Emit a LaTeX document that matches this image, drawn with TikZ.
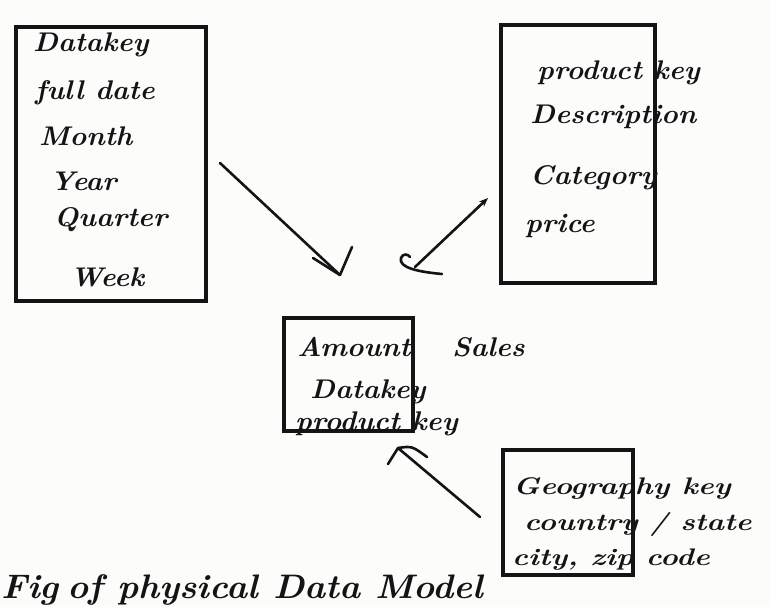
\documentclass[tikz,border=0pt]{standalone}
\usepackage{fontspec}
\setmainfont{lmroman10-regular.otf}[ItalicFont=lmroman10-italic.otf, BoldFont=lmroman10-bold.otf, BoldItalicFont=lmroman10-bolditalic.otf, FakeStretch=1.05]
\newfontfamily\widehand{lmroman10-regular.otf}[ItalicFont=lmroman10-italic.otf, BoldFont=lmroman10-bold.otf, BoldItalicFont=lmroman10-bolditalic.otf, FakeStretch=1.25]
\usetikzlibrary{arrows.meta}
\definecolor{ink}{HTML}{141414}
\definecolor{paper}{HTML}{FCFCFB}
\tikzset{
  table/.style={draw=ink, line width=3.2pt, inner sep=0pt},
  field/.style={anchor=base west, inner sep=0pt, text=ink, font=\bfseries\itshape\fontsize{27}{29}\selectfont},
  smallfield/.style={field, font=\widehand\bfseries\itshape\fontsize{24}{26}\selectfont},
  caption/.style={inner sep=0pt, text=ink, font=\bfseries\itshape\fontsize{34}{36}\selectfont},
  link/.style={draw=ink, line width=2.6pt, line cap=round, line join=round},
}
\begin{document}
\begin{tikzpicture}[x=1pt,y=-1pt]
\useasboundingbox (0,0) rectangle (771,607);
\fill[paper] (0,0) rectangle (771,607);

% dimension table: date
\node[table, minimum width=190, minimum height=274] (date) at (111,164) {};
\node[field] (dkey)    at (33,52)  {Datakey};
\node[field] (fulld)   at (35,100) {full date};
\node[field] (month)   at (39,146) {Month};
\node[field] (year)    at (50,190) {Year};
\node[field] (quarter) at (54,226) {Quarter};
\node[field] (week)    at (70,286) {Week};

% dimension table: product
\node[table, minimum width=154, minimum height=258] (product) at (578,154) {};
\node[field] (pkey)  at (537,80)  {product key};
\node[field] (pdesc) at (530,124) {Description};
\node[field] (pcat)  at (530,184) {Category};
\node[field] (price) at (525,232) {price};

% fact table: sales
\node[table, minimum width=129, minimum height=113] (sales) at (348.5,374.5) {};
\node[field] (amount) at (297,356) {Amount};
\node[field] (stitle) at (452,356) {Sales};
\node[field] (fdkey)  at (310,398) {Datakey};
\node[field] (fpkey)  at (295,430) {product key};

% dimension table: geography
\node[table, minimum width=130, minimum height=125] (geo) at (568,512.5) {};
\node[smallfield] (gkey)   at (513,494) {Geography key};
\node[smallfield] (gcs)    at (524,530) {country / state};
\node[smallfield] (gcity)  at (512,565) {city, zip code};

% connectors
\coordinate (d1) at (220,163);
\coordinate (d2) at (340,275);
\draw[link] (d1) -- (d2);
\draw[link] (313,258) -- (d2) -- (352,247);

\coordinate (p1) at (415,267);
\coordinate (p2) at (488,198);
\draw[link, -{Stealth[length=9pt,width=7pt]}] (p1) -- (p2);
\draw[link] (442,274) .. controls (420,272) and (398,268) .. (401,258)
            .. controls (403,253) and (408,254) .. (410,257);

\coordinate (g1) at (480,517);
\coordinate (g2) at (398,448);
\draw[link] (g1) -- (g2);
\draw[link] (388,464) -- (g2) .. controls (412,446) .. (427,457);

% caption
\node[caption, anchor=base west] (figlbl) at (1,598) {Fig};
\node[caption, anchor=base west] (title) at (67,598) {of physical Data Model};
\end{tikzpicture}
\end{document}
